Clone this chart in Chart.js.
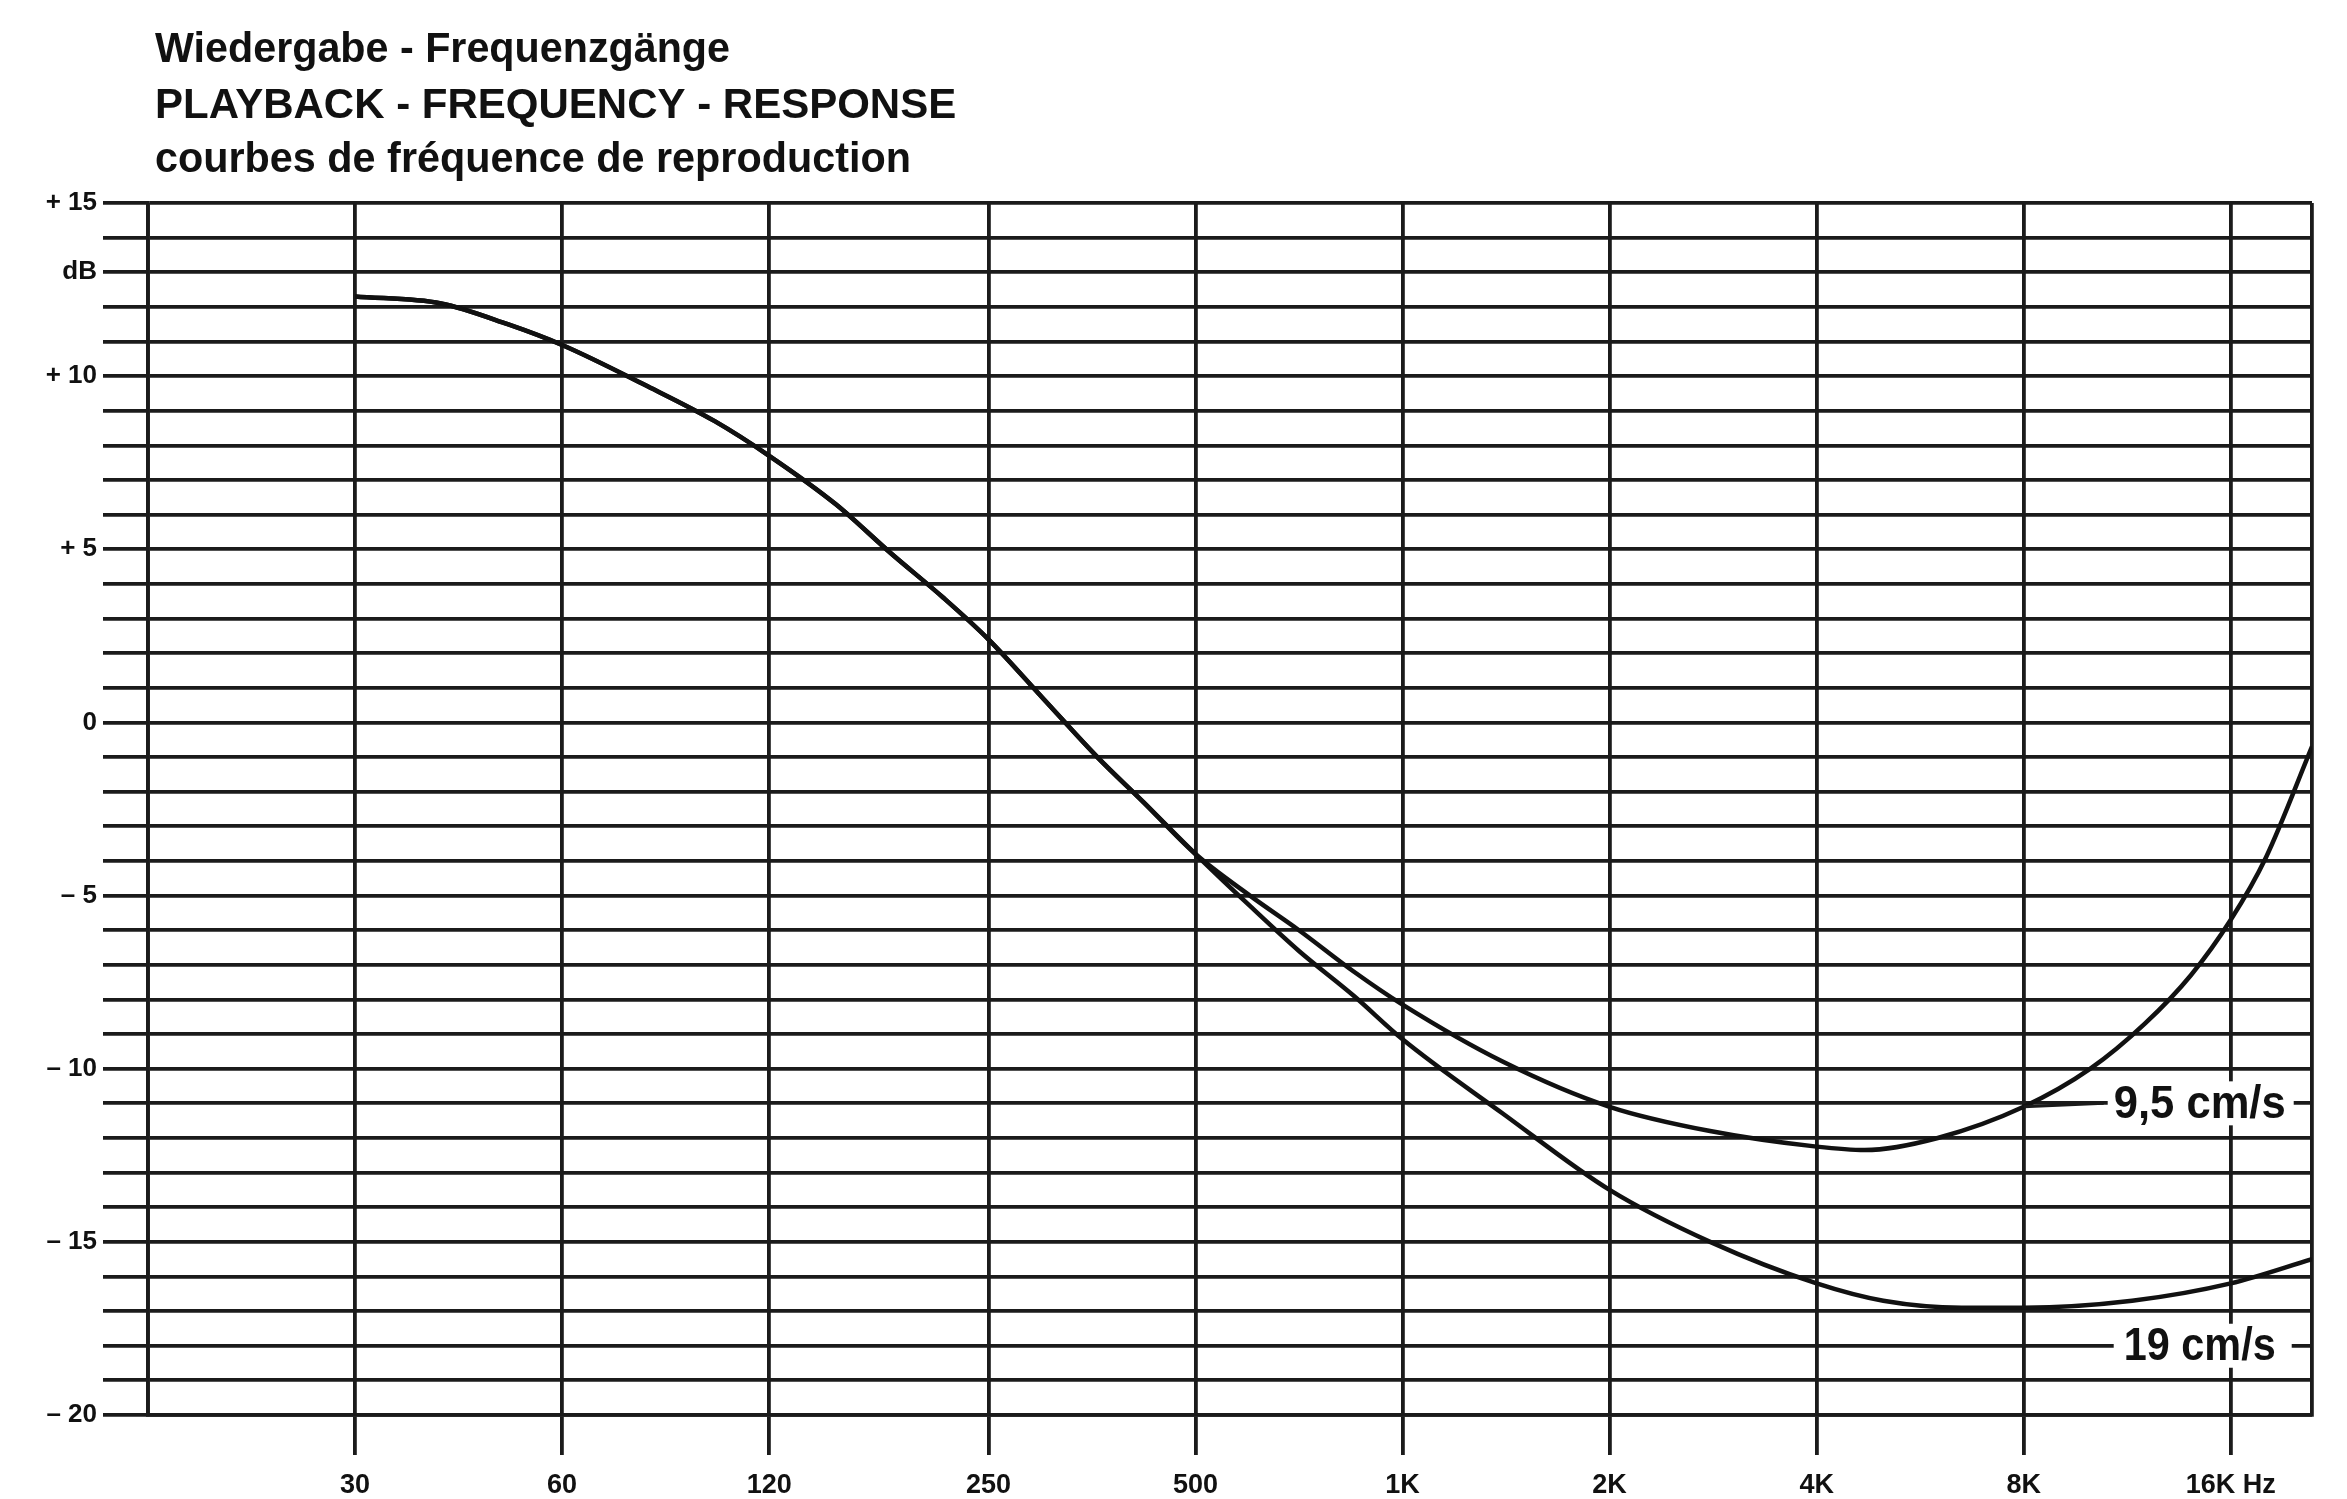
<!DOCTYPE html>
<html>
<head>
<meta charset="utf-8">
<script src="https://cdn.jsdelivr.net/npm/chart.js@4.4.0/dist/chart.umd.min.js"></script>
<style>
  body { margin: 0; background: #fff; }
  #wrap { width: 2347px; height: 1499px; }
</style>
</head>
<body>
<div id="wrap"><canvas id="responseChart" width="2347" height="1499"></canvas></div>
<script>
// both tape speeds share the same curve up to about 500 Hz
const lowFreq = [30, 40, 50, 60, 80, 100, 120, 150, 180, 215, 250, 300, 360, 420, 500];
const lowDb = [12.3, 12.1, 11.5, 10.9, 9.7, 8.7, 7.7, 6.3, 4.9, 3.6, 2.4, 0.7, -1.0, -2.3, -3.8];

const freq95 = [600, 707, 850, 1000, 1400, 2000, 2800, 4000, 4700, 6000, 8000, 10000, 12000, 14000, 16000, 18000, 21000];
const db95 = [-5.0, -6.0, -7.2, -8.15, -9.8, -11.1, -11.8, -12.25, -12.35, -12.0, -11.1, -10.0, -8.7, -7.3, -5.7, -3.9, -0.7];

const freq19 = [600, 707, 850, 1000, 1400, 2000, 2800, 4000, 5000, 6500, 8000, 11500, 16000, 21000];
const db19 = [-5.3, -6.6, -7.9, -9.15, -11.3, -13.5, -15.0, -16.2, -16.7, -16.9, -16.9, -16.7, -16.2, -15.5];

const freqTicks = [30, 60, 120, 250, 500, 1000, 2000, 4000, 8000, 16000];
const freqLabels = ['30', '60', '120', '250', '500', '1K', '2K', '4K', '8K', '16K Hz'];
const dbTickValues = [15, 13, 10, 5, 0, -5, -10, -15, -20];
const dbTickLabels = ['+ 15', 'dB', '+ 10', '+ 5', '0', '– 5', '– 10', '– 15', '– 20'];
const titleLines = ['Wiedergabe - Frequenzgänge', 'PLAYBACK - FREQUENCY - RESPONSE', 'courbes de fréquence de reproduction'];

const ink = '#1b1b1b';
const toPoints = (xs, ys) => xs.map((f, i) => ({ x: f, y: ys[i] }));

const titlePlugin = {
    id: 'titleText',
    afterDraw(chart) {
        const ctx = chart.ctx;
        ctx.save();
        ctx.fillStyle = '#111';
        ctx.font = 'bold 42px "Liberation Sans", Arial, sans-serif';
        ctx.textBaseline = 'alphabetic';
        const widths = [575, 803, 756];
        const baselines = [62, 118, 172];
        titleLines.forEach((t, i) => ctx.fillText(t, 155, baselines[i], widths[i]));
        ctx.restore();
    }
};

const speedLabels = {
    id: 'speedLabels',
    afterDatasetsDraw(chart) {
        const { ctx, scales: { x, y } } = chart;
        const x8 = x.getPixelForValue(8000);
        ctx.save();
        ctx.font = 'bold 46px "Liberation Sans Narrow", "Liberation Sans", sans-serif';
        ctx.textBaseline = 'middle';

        // 9,5 cm/s, leader from the curve at 8 kHz
        const yA = y.getPixelForValue(-11);
        ctx.fillStyle = '#fff';
        ctx.fillRect(x8 + 84, yA - 22, 186, 44);
        ctx.strokeStyle = ink;
        ctx.lineWidth = 3;
        ctx.beginPath();
        ctx.moveTo(x8, y.getPixelForValue(-11.1));
        ctx.lineTo(x8 + 80, yA);
        ctx.stroke();
        ctx.fillStyle = '#111';
        ctx.fillText('9,5 cm/s', x8 + 90, yA + 2, 172);

        // 19 cm/s
        const yB = y.getPixelForValue(-18);
        ctx.fillStyle = '#fff';
        ctx.fillRect(x8 + 90, yB - 22, 178, 44);
        ctx.fillStyle = '#111';
        ctx.fillText('19 cm/s', x8 + 100, yB + 2, 152);
        ctx.restore();
    }
};

const chartCtx = document.getElementById('responseChart').getContext('2d');
new Chart(chartCtx, {
    type: 'line',
    data: {
        datasets: [{
            label: '9,5 cm/s',
            data: toPoints(lowFreq.concat(freq95), lowDb.concat(db95)),
            borderColor: '#111',
            borderWidth: 4.5,
            pointRadius: 0,
            cubicInterpolationMode: 'monotone'
        }, {
            label: '19 cm/s',
            data: toPoints(lowFreq.concat(freq19), lowDb.concat(db19)),
            borderColor: '#111',
            borderWidth: 4.5,
            pointRadius: 0,
            cubicInterpolationMode: 'monotone'
        }]
    },
    options: {
        responsive: false,
        animation: false,
        layout: { padding: { top: 203, right: 35, left: 0, bottom: 0 } },
        plugins: {
            legend: { display: false },
            tooltip: { enabled: false }
        },
        scales: {
            x: {
                type: 'logarithmic',
                min: 15,
                max: 21000,
                afterFit: s => { s.height = 84; },
                afterBuildTicks: s => { s.ticks = [15, ...freqTicks, 21000].map(v => ({ value: v })); },
                ticks: {
                    autoSkip: false,
                    maxRotation: 0,
                    padding: 14,
                    color: '#111',
                    font: { family: '"Liberation Sans Narrow", "Liberation Sans", sans-serif', size: 27, weight: 'bold' },
                    callback: v => {
                        const i = freqTicks.indexOf(v);
                        return i < 0 ? '' : freqLabels[i];
                    }
                },
                grid: {
                    color: ink,
                    lineWidth: 3.8,
                    tickLength: 40,
                    tickColor: c => (c.tick && (c.tick.value === 15 || c.tick.value === 21000)) ? 'rgba(0,0,0,0)' : ink
                },
                border: { display: true, color: ink, width: 3.8 }
            },
            y: {
                min: -20,
                max: 15,
                afterFit: s => { s.width = 148; },
                ticks: {
                    stepSize: 1,
                    autoSkip: false,
                    maxTicksLimit: 40,
                    padding: 6,
                    color: '#111',
                    font: { family: '"Liberation Sans", sans-serif', size: 26, weight: 'bold' },
                    callback: v => {
                        const i = dbTickValues.indexOf(v);
                        return i < 0 ? '' : dbTickLabels[i];
                    }
                },
                grid: { color: ink, lineWidth: 3.8, tickLength: 45 },
                border: { display: true, color: ink, width: 3.8 }
            }
        }
    },
    plugins: [titlePlugin, speedLabels]
});
</script>
</body>
</html>
